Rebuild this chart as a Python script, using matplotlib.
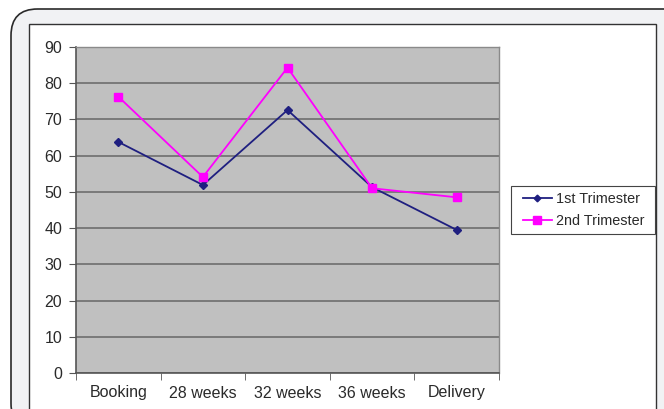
import matplotlib
matplotlib.use("Agg")
import matplotlib.pyplot as plt
from matplotlib.patches import FancyBboxPatch, Rectangle
from matplotlib.ticker import FixedLocator, NullFormatter

plt.rcParams['font.family'] = ['Liberation Sans', 'DejaVu Sans']

# data
stages = ["Booking", "28 weeks", "32 weeks", "36 weeks", "Delivery"]
first_tri = [63.8, 51.9, 72.6, 51.3, 39.5]
second_tri = [76.3, 54.1, 84.3, 51.0, 48.5]
y_ticks = [0, 10, 20, 30, 40, 50, 60, 70, 80, 90]

W, H = 664, 409
fig = plt.figure(figsize=(W / 100, H / 100), dpi=100)
fig.patch.set_facecolor("white")

def fx(px):
    return px / W

def fy(py):
    return 1 - py / H

# outer rounded card + inner white chart frame (kept behind the axes)
card = FancyBboxPatch((fx(11), fy(430)), fx(700 - 11), fy(9) - fy(430),
                      boxstyle="round,pad=0,rounding_size=0.04",
                      transform=fig.transFigure, facecolor="#f1f2f4",
                      edgecolor="#2a2a2a", linewidth=1.2, mutation_aspect=W / H,
                      zorder=-2)
fig.patches.append(card)
frame = Rectangle((fx(29), fy(430)), fx(656) - fx(29), fy(24) - fy(430),
                  transform=fig.transFigure, facecolor="white",
                  edgecolor="#333333", linewidth=1.0, zorder=-1)
fig.patches.append(frame)
# legend box, drawn separately so the padding can be wider than tall
leg_box = Rectangle((fx(511), fy(234)), fx(655) - fx(511), fy(186) - fy(234),
                    transform=fig.transFigure, facecolor="white",
                    edgecolor="#444444", linewidth=0.8, zorder=-0.5)
fig.patches.append(leg_box)

ax = fig.add_axes([fx(76), fy(373), fx(499) - fx(76), fy(47) - fy(373)])
ax.set_zorder(1)
ax.set_facecolor("#c0c0c0")

x = list(range(len(stages)))
ax.plot(x, first_tri, color="#1f1f80", lw=1.3, marker="D", ms=4,
        label="1st Trimester", zorder=3)
ax.plot(x, second_tri, color="#ff00ff", lw=1.3, marker="s", ms=6,
        label="2nd Trimester", zorder=3)

ax.set_xlim(-0.5, len(stages) - 0.5)
ax.set_ylim(0, 90)
ax.set_yticks(y_ticks)
ax.yaxis.grid(True, color="#7a7a7a", lw=1.4)
ax.set_axisbelow(True)

ax.set_xticks(x)
ax.set_xticklabels(stages)
ax.xaxis.set_minor_locator(FixedLocator([i - 0.5 for i in range(len(stages) + 1)]))
ax.xaxis.set_minor_formatter(NullFormatter())
ax.tick_params(axis="x", which="major", length=0, pad=9, labelsize=11.5, colors="#2a2a2a")
ax.tick_params(axis="x", which="minor", length=5, direction="out", color="#555555")
ax.tick_params(axis="y", length=5, direction="out", pad=5, labelsize=11.5,
               colors="#2a2a2a", color="#555555")

for side in ["top", "right"]:
    ax.spines[side].set_color("#8a8a8a")
    ax.spines[side].set_linewidth(1.0)
for side in ["left", "bottom"]:
    ax.spines[side].set_color("#555555")
    ax.spines[side].set_linewidth(1.2)

leg = ax.legend(loc="center left", bbox_to_anchor=(fx(523), fy(210)),
                bbox_transform=fig.transFigure, fontsize=10.4, frameon=False,
                handlelength=2.0, handletextpad=0.3, borderpad=0,
                labelspacing=0.57, borderaxespad=0, markerscale=0.85)
for t in leg.get_texts():
    t.set_color("#2a2a2a")

fig.savefig("out.png", dpi=100)
